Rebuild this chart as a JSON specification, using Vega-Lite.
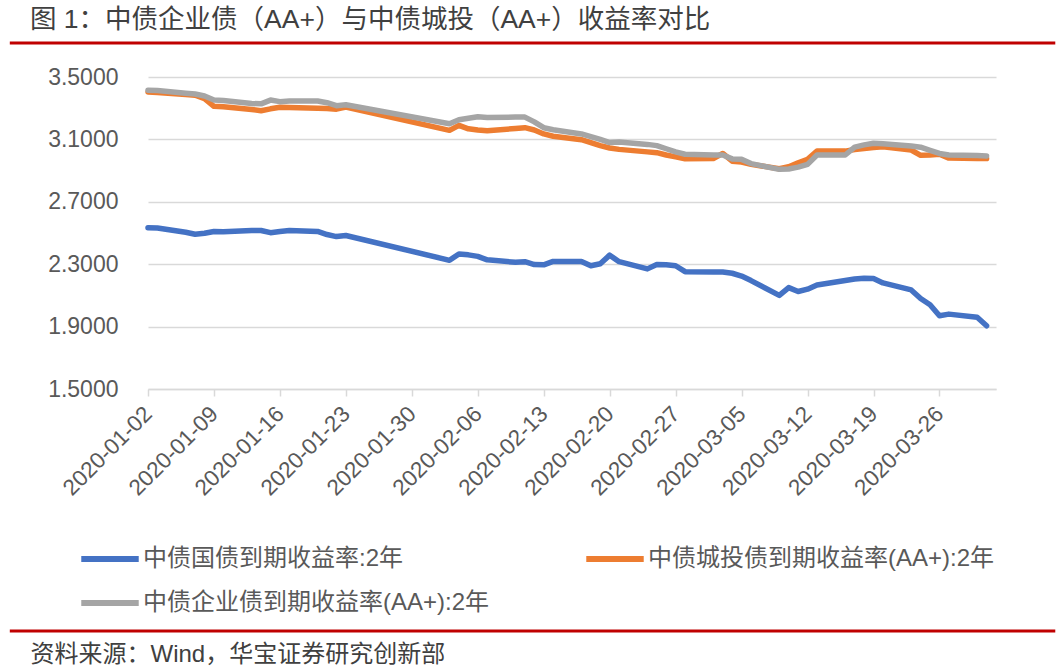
{
  "$schema": "https://vega.github.io/schema/vega-lite/v6.json",
  "width": 848,
  "height": 312,
  "padding": {"left": 8, "top": 6, "right": 8, "bottom": 4},
  "background": "white",
  "config": {"view": {"stroke": null}, "font": "Liberation Sans, Noto Sans CJK SC"},
  "title": {
    "text": "图 1：中债企业债（AA+）与中债城投（AA+）收益率对比",
    "anchor": "start",
    "frame": "group",
    "dx": -118,
    "fontSize": 26.5,
    "fontWeight": "normal",
    "color": "#404040",
    "offset": 8
  },
  "data": {
    "values": [
      {"date": "2020-01-02", "g": 2.534, "c": 3.404, "q": 3.415},
      {"date": "2020-01-03", "g": 2.532, "c": 3.400, "q": 3.413},
      {"date": "2020-01-06", "g": 2.505, "c": 3.388, "q": 3.396},
      {"date": "2020-01-07", "g": 2.492, "c": 3.383, "q": 3.391},
      {"date": "2020-01-08", "g": 2.498, "c": 3.362, "q": 3.378},
      {"date": "2020-01-09", "g": 2.510, "c": 3.312, "q": 3.352},
      {"date": "2020-01-10", "g": 2.508, "c": 3.310, "q": 3.350},
      {"date": "2020-01-13", "g": 2.516, "c": 3.292, "q": 3.330},
      {"date": "2020-01-14", "g": 2.516, "c": 3.284, "q": 3.328},
      {"date": "2020-01-15", "g": 2.502, "c": 3.296, "q": 3.352},
      {"date": "2020-01-16", "g": 2.510, "c": 3.306, "q": 3.342},
      {"date": "2020-01-17", "g": 2.516, "c": 3.305, "q": 3.346},
      {"date": "2020-01-20", "g": 2.510, "c": 3.300, "q": 3.346},
      {"date": "2020-01-21", "g": 2.490, "c": 3.298, "q": 3.335},
      {"date": "2020-01-22", "g": 2.477, "c": 3.294, "q": 3.316},
      {"date": "2020-01-23", "g": 2.484, "c": 3.308, "q": 3.322},
      {"date": "2020-02-03", "g": 2.325, "c": 3.158, "q": 3.200},
      {"date": "2020-02-04", "g": 2.366, "c": 3.190, "q": 3.226},
      {"date": "2020-02-05", "g": 2.360, "c": 3.168, "q": 3.236},
      {"date": "2020-02-06", "g": 2.350, "c": 3.160, "q": 3.245},
      {"date": "2020-02-07", "g": 2.328, "c": 3.155, "q": 3.240},
      {"date": "2020-02-10", "g": 2.312, "c": 3.170, "q": 3.243},
      {"date": "2020-02-11", "g": 2.316, "c": 3.175, "q": 3.243},
      {"date": "2020-02-12", "g": 2.298, "c": 3.160, "q": 3.212},
      {"date": "2020-02-13", "g": 2.296, "c": 3.135, "q": 3.175},
      {"date": "2020-02-14", "g": 2.318, "c": 3.120, "q": 3.162},
      {"date": "2020-02-17", "g": 2.318, "c": 3.098, "q": 3.135},
      {"date": "2020-02-18", "g": 2.290, "c": 3.080, "q": 3.118},
      {"date": "2020-02-19", "g": 2.303, "c": 3.060, "q": 3.100},
      {"date": "2020-02-20", "g": 2.358, "c": 3.045, "q": 3.080},
      {"date": "2020-02-21", "g": 2.316, "c": 3.036, "q": 3.083},
      {"date": "2020-02-24", "g": 2.270, "c": 3.020, "q": 3.068},
      {"date": "2020-02-25", "g": 2.298, "c": 3.015, "q": 3.060},
      {"date": "2020-02-26", "g": 2.296, "c": 3.000, "q": 3.040},
      {"date": "2020-02-27", "g": 2.290, "c": 2.988, "q": 3.020},
      {"date": "2020-02-28", "g": 2.252, "c": 2.976, "q": 3.005},
      {"date": "2020-03-02", "g": 2.250, "c": 2.977, "q": 3.000},
      {"date": "2020-03-03", "g": 2.250, "c": 3.010, "q": 3.000},
      {"date": "2020-03-04", "g": 2.242, "c": 2.960, "q": 2.975},
      {"date": "2020-03-05", "g": 2.224, "c": 2.955, "q": 2.972},
      {"date": "2020-03-06", "g": 2.195, "c": 2.940, "q": 2.945},
      {"date": "2020-03-09", "g": 2.100, "c": 2.912, "q": 2.908},
      {"date": "2020-03-10", "g": 2.150, "c": 2.925, "q": 2.910},
      {"date": "2020-03-11", "g": 2.125, "c": 2.950, "q": 2.922},
      {"date": "2020-03-12", "g": 2.140, "c": 2.972, "q": 2.940},
      {"date": "2020-03-13", "g": 2.167, "c": 3.026, "q": 3.000},
      {"date": "2020-03-16", "g": 2.195, "c": 3.025, "q": 3.000},
      {"date": "2020-03-17", "g": 2.205, "c": 3.035, "q": 3.050},
      {"date": "2020-03-18", "g": 2.210, "c": 3.042, "q": 3.065},
      {"date": "2020-03-19", "g": 2.208, "c": 3.048, "q": 3.075},
      {"date": "2020-03-20", "g": 2.180, "c": 3.053, "q": 3.072},
      {"date": "2020-03-23", "g": 2.135, "c": 3.032, "q": 3.058},
      {"date": "2020-03-24", "g": 2.080, "c": 2.998, "q": 3.050},
      {"date": "2020-03-25", "g": 2.040, "c": 3.000, "q": 3.030},
      {"date": "2020-03-26", "g": 1.970, "c": 3.005, "q": 3.010},
      {"date": "2020-03-27", "g": 1.980, "c": 2.980, "q": 3.000},
      {"date": "2020-03-30", "g": 1.960, "c": 2.978, "q": 2.996},
      {"date": "2020-03-31", "g": 1.905, "c": 2.977, "q": 2.994}
    ]
  },
  "layer": [
    {
      "transform": [{"fold": ["g", "c", "q"], "as": ["series", "value"]}],
      "mark": {"type": "line", "strokeWidth": 5.5, "strokeCap": "round", "strokeJoin": "round"},
      "encoding": {
        "x": {
          "field": "date",
          "type": "temporal",
          "scale": {
            "type": "utc",
            "domain": [
              {"year": 2020, "month": 1, "date": 2, "utc": true},
              {"year": 2020, "month": 4, "date": 1, "utc": true}
            ]
          },
          "axis": {
            "values": [
              {"year": 2020, "month": 1, "date": 2, "utc": true},
              {"year": 2020, "month": 1, "date": 9, "utc": true},
              {"year": 2020, "month": 1, "date": 16, "utc": true},
              {"year": 2020, "month": 1, "date": 23, "utc": true},
              {"year": 2020, "month": 1, "date": 30, "utc": true},
              {"year": 2020, "month": 2, "date": 6, "utc": true},
              {"year": 2020, "month": 2, "date": 13, "utc": true},
              {"year": 2020, "month": 2, "date": 20, "utc": true},
              {"year": 2020, "month": 2, "date": 27, "utc": true},
              {"year": 2020, "month": 3, "date": 5, "utc": true},
              {"year": 2020, "month": 3, "date": 12, "utc": true},
              {"year": 2020, "month": 3, "date": 19, "utc": true},
              {"year": 2020, "month": 3, "date": 26, "utc": true}
            ],
            "labelExpr": "utcFormat(datum.value, '%Y-%m-%d')",
            "labelAngle": -45,
            "labelAlign": "right",
            "labelBaseline": "middle",
            "labelFontSize": 22.5,
            "labelColor": "#595959",
            "labelPadding": 14,
            "labelFlush": false,
            "labelOverlap": false,
            "tickSize": 7,
            "tickColor": "#D9D9D9",
            "tickWidth": 1.5,
            "domainColor": "#D9D9D9",
            "domainWidth": 1.5,
            "grid": false,
            "title": "资料来源：Wind，华宝证券研究创新部",
            "titleX": -118,
            "titleY": 272,
            "titleAlign": "left",
            "titleAnchor": "start",
            "titleBaseline": "alphabetic",
            "titleAngle": 0,
            "titleFontSize": 24,
            "titleFontWeight": "normal",
            "titleColor": "#404040"
          }
        },
        "y": {
          "field": "value",
          "type": "quantitative",
          "scale": {"domain": [1.5, 3.5], "nice": false, "zero": false},
          "axis": {
            "values": [1.5, 1.9, 2.3, 2.7, 3.1, 3.5],
            "format": ".4f",
            "grid": true,
            "gridColor": "#D9D9D9",
            "gridWidth": 1.5,
            "domain": false,
            "ticks": false,
            "labelFontSize": 23,
            "labelColor": "#595959",
            "labelPadding": 30,
            "title": null
          }
        },
        "color": {
          "field": "series",
          "type": "nominal",
          "scale": {"domain": ["g", "c", "q"], "range": ["#4472C4", "#ED7D31", "#A5A5A5"]},
          "legend": {
            "orient": "none",
            "legendX": -70,
            "legendY": 450,
            "direction": "horizontal",
            "columns": 2,
            "columnPadding": 84,
            "rowPadding": -12,
            "title": null,
            "symbolType": "stroke",
            "symbolSize": 3300,
            "symbolStrokeWidth": 6,
            "labelFontSize": 24,
            "labelColor": "#595959",
            "labelLimit": 600,
            "labelOffset": 1,
            "labelExpr": "{'g': '中债国债到期收益率:2年', 'c': '中债城投债到期收益率(AA+):2年', 'q': '中债企业债到期收益率(AA+):2年'}[datum.label]"
          }
        }
      }
    },
    {
      "data": {"values": [{}]},
      "mark": {"type": "rule", "color": "#C00000", "strokeWidth": 3},
      "encoding": {
        "x": {"datum": {"year": 2019, "month": 12, "date": 18, "hours": 8, "utc": true}},
        "x2": {"datum": {"year": 2020, "month": 4, "date": 7, "hours": 7, "utc": true}},
        "y": {"datum": 3.718}
      }
    },
    {
      "data": {"values": [{}]},
      "mark": {"type": "rule", "color": "#C00000", "strokeWidth": 3},
      "encoding": {
        "x": {"datum": {"year": 2019, "month": 12, "date": 18, "hours": 8, "utc": true}},
        "x2": {"datum": {"year": 2020, "month": 4, "date": 7, "hours": 7, "utc": true}},
        "y": {"datum": -0.051}
      }
    }
  ]
}
